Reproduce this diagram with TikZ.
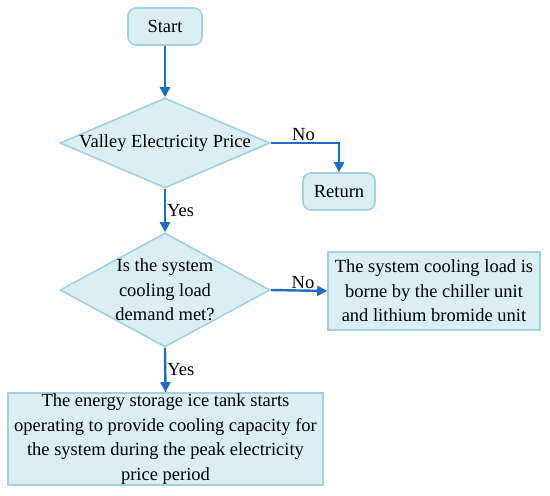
\documentclass[tikz,border=0pt]{standalone}
\usepackage{fontspec}
\setmainfont{Liberation Serif}
\usetikzlibrary{shapes.geometric,arrows.meta}
\definecolor{boxfill}{HTML}{DAEEF3}
\definecolor{boxline}{HTML}{A3D1E1}
\definecolor{arrowc}{HTML}{1A6FC4}
\begin{document}
\begin{tikzpicture}[x=1pt,y=-1pt,
  every node/.style={font=\fontsize{18.5}{24.5}\selectfont},
  base/.style={draw=boxline, fill=boxfill, line width=1.6pt, inner sep=0pt, align=center},
  roundbox/.style={base, rounded corners=8pt},
  rectbox/.style={base},
  decision/.style={base, diamond},
  conn/.style={draw=arrowc, line width=2.4pt, -{Triangle[length=10pt,width=10pt]}},
  lbl/.style={inner sep=1pt}
]
\useasboundingbox (0,0) rectangle (550,496);
\node[roundbox, minimum width=74pt, minimum height=37pt] (start) at (165,26.5) {Start};
\node[decision, minimum width=210pt, minimum height=90pt] (d1) at (165,143) {};
\node (t1) at (165,143) {Valley Electricity Price};
\node[roundbox, minimum width=72pt, minimum height=37pt] (ret) at (339,191.5) {Return};
\node[decision, minimum width=210pt, minimum height=114pt] (d2) at (165,290) {};
\node[align=center] (t2) at (165,290) {Is the system\\cooling load\\demand met?};
\node[rectbox, minimum width=212pt, minimum height=78pt] (chill) at (434,291) {The system cooling load is\\borne by the chiller unit\\and lithium bromide unit};
\node[rectbox, minimum width=315pt, minimum height=92pt] (ice) at (165.5,439) {The energy storage ice tank starts\\operating to provide cooling capacity for\\the system during the peak electricity\\price period};
\draw[conn] (start.south) -- (d1.north);
\draw[conn] (d1.east) -| node[lbl, pos=0.5, anchor=south east, xshift=-22pt] (no1) {No} (ret.north);
\draw[conn] (d1.south) -- node[lbl, anchor=west, pos=0.5] (yes1) {Yes} (d2.north);
\draw[conn] (d2.east) -- node[lbl, anchor=south, pos=0.5, xshift=4pt] (no2) {No} (chill.west);
\draw[conn] (d2.south) -- node[lbl, anchor=west, pos=0.5] (yes2) {Yes} (ice.north);
\end{tikzpicture}
\end{document}
